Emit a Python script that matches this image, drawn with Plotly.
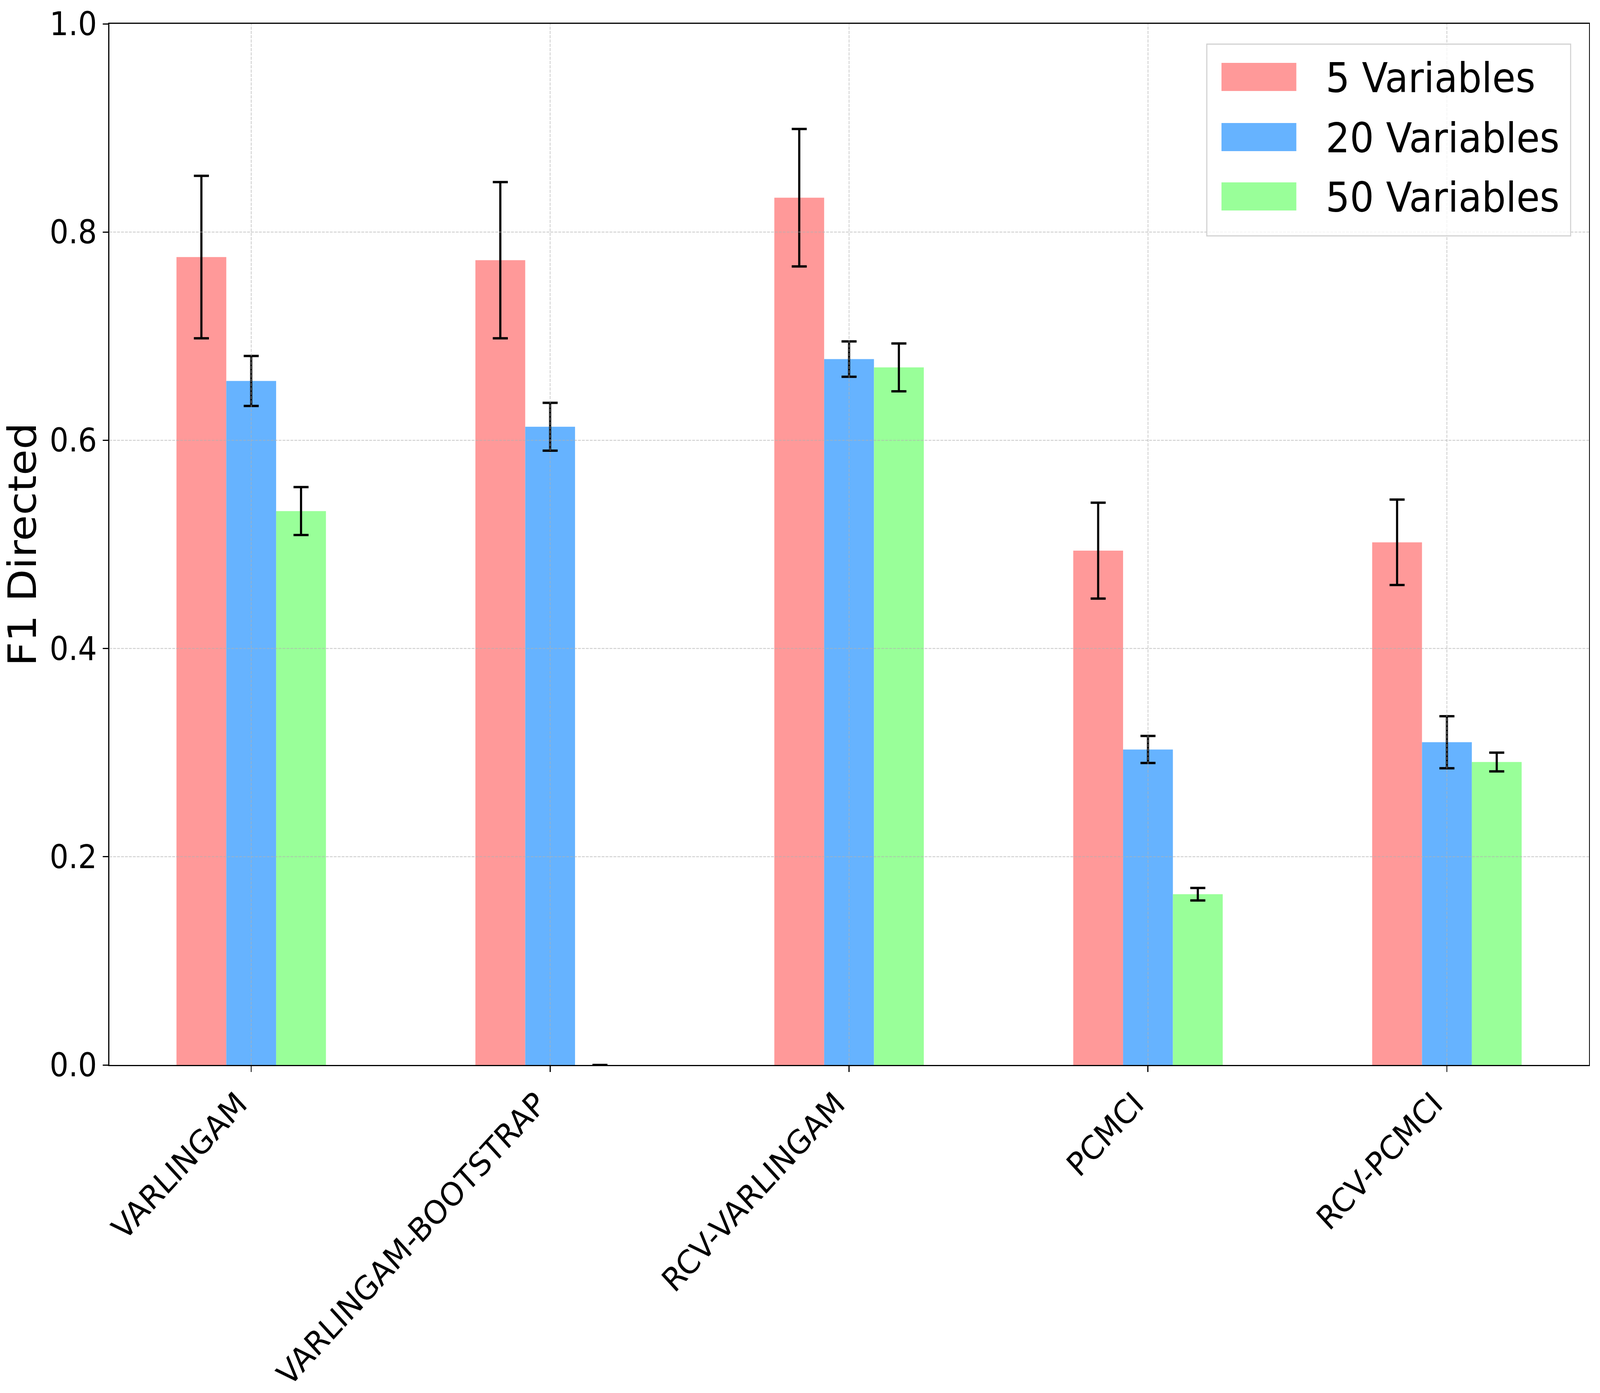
import plotly.graph_objects as go

methods = ["VARLINGAM", "VARLINGAM-BOOTSTRAP", "RCV-VARLINGAM", "PCMCI", "RCV-PCMCI"]
series_names = ["5 Variables", "20 Variables", "50 Variables"]
colors = ["#ff9999", "#66b3ff", "#99ff99"]

f1_5 = [0.776, 0.773, 0.833, 0.494, 0.502]
f1_20 = [0.657, 0.613, 0.678, 0.303, 0.310]
f1_50 = [0.532, 0.0, 0.670, 0.164, 0.291]

err_5 = [0.078, 0.075, 0.066, 0.046, 0.041]
err_20 = [0.024, 0.023, 0.017, 0.013, 0.025]
err_50 = [0.023, 0.0, 0.023, 0.006, 0.009]

values = [f1_5, f1_20, f1_50]
errors = [err_5, err_20, err_50]

y_ticks = [0.0, 0.2, 0.4, 0.6, 0.8, 1.0]

W, H = 4468, 3567
L, R, T, B = 305, 31, 61, 840
FONT = "DejaVu Sans"

fig = go.Figure()
for name, col, v, e in zip(series_names, colors, values, errors):
    fig.add_trace(go.Bar(
        x=methods, y=v, name=name, marker=dict(color=col, line=dict(width=0)),
        error_y=dict(type="data", array=e, visible=True, color="black",
                     thickness=6, width=21),
        showlegend=False,
    ))

grid_col = "rgba(176,176,176,0.7)"
shapes = []
# gridlines drawn above the bars (as in the reference)
for yv in y_ticks[1:-1]:
    shapes.append(dict(type="line", xref="paper", yref="y", x0=0, x1=1, y0=yv, y1=yv,
                       line=dict(color=grid_col, width=2, dash="8px,3px"), layer="above"))
for i in range(len(methods)):
    shapes.append(dict(type="line", xref="x", yref="paper", x0=i, x1=i, y0=0, y1=1,
                       line=dict(color=grid_col, width=2, dash="8px,3px"), layer="above"))

# legend box
plot_w = W - L - R
plot_h = H - T - B
def px_x(p):
    return (p - L) / plot_w
def px_y(p):
    return (H - B - p) / plot_h

shapes.append(dict(type="rect", xref="paper", yref="paper",
                   x0=px_x(3370), x1=px_x(4386), y0=px_y(604), y1=px_y(113),
                   line=dict(color="rgba(204,204,204,0.9)", width=3),
                   fillcolor="rgba(255,255,255,0.8)", layer="above"))
annotations = []
row_centers = [197, 351, 503]
for name, col, yc in zip(series_names, colors, row_centers):
    shapes.append(dict(type="rect", xref="paper", yref="paper",
                       x0=px_x(3411), x1=px_x(3620), y0=px_y(yc + 36), y1=px_y(yc - 36),
                       line=dict(width=0), fillcolor=col, layer="above"))
    annotations.append(dict(xref="paper", yref="paper", x=px_x(3700), y=px_y(yc + 2),
                            text=name, showarrow=False, xanchor="left", yanchor="middle",
                            font=dict(family=FONT, size=106, color="black")))

fig.update_layout(
    width=W, height=H,
    margin=dict(l=L, r=R, t=T, b=B, autoexpand=False),
    paper_bgcolor="white", plot_bgcolor="white",
    barmode="group", bargap=0.5, bargroupgap=0,
    font=dict(family=FONT, color="black"),
    shapes=shapes, annotations=annotations,
    showlegend=False,
)
fig.update_xaxes(
    type="category", range=[-0.475, 4.475],
    showline=True, linecolor="black", linewidth=3.3, mirror=True,
    ticks="outside", ticklen=14.6, tickwidth=3.3, tickcolor="black",
    tickangle=-45, tickfont=dict(family=FONT, size=83, color="black"),
    ticklabelshift=-36,
    showgrid=False, zeroline=False,
)
fig.update_yaxes(
    range=[0, 1], tickvals=y_ticks, ticktext=[f"{v:.1f}" for v in y_ticks],
    showline=True, linecolor="black", linewidth=3.3, mirror=True,
    ticks="outside", ticklen=14.6, tickwidth=3.3, tickcolor="black",
    tickfont=dict(family=FONT, size=83, color="black"),
    showgrid=False, zeroline=False,
    title=dict(text="F1 Directed", font=dict(family=FONT, size=108, color="black"), standoff=30),
)

# map the fixed-size figure onto the whole browser viewport
post_script = """
(function(){
  var gd = document.getElementById('{plot_id}');
  document.documentElement.style.margin = '0';
  document.documentElement.style.padding = '0';
  document.body.style.margin = '0';
  document.body.style.padding = '0';
  var vw = window.innerWidth, vh = window.innerHeight;
  var sx = vw / %d, sy = vh / %d;
  if (Math.abs(sx - 1) > 0.002 || Math.abs(sy - 1) > 0.002) {
    var wrap = gd.parentElement;
    wrap.style.width = vw + 'px';
    wrap.style.height = vh + 'px';
    wrap.style.overflow = 'hidden';
    gd.style.transformOrigin = '0 0';
    gd.style.transform = 'scale(' + sx + ',' + sy + ')';
  }
  document.body.style.overflow = 'hidden';
})();
""" % (W, H)

fig.write_html("out.html", post_script=post_script, config={"displayModeBar": False})
